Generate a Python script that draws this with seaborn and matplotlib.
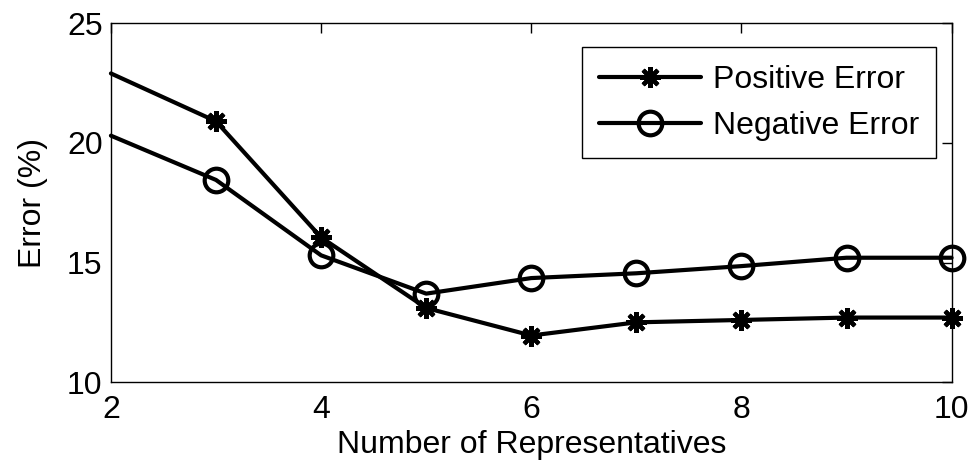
import numpy as np
import pandas as pd
import matplotlib
matplotlib.use("Agg")
import matplotlib.pyplot as plt
from matplotlib.lines import Line2D
import seaborn as sns

# values
representatives = [2, 3, 4, 5, 6, 7, 8, 9, 10]
positive_error = [22.9, 20.9, 16.05, 13.1, 11.95, 12.5, 12.6, 12.7, 12.7]
negative_error = [20.3, 18.45, 15.3, 13.7, 14.35, 14.55, 14.85, 15.2, 15.2]
series_names = ["Positive Error", "Negative Error"]

df = pd.DataFrame({
    "reps": representatives * 2,
    "error": positive_error + negative_error,
    "kind": [series_names[0]] * len(representatives) + [series_names[1]] * len(representatives),
})

sns.set_style("white")
plt.rcParams["font.family"] = ["Liberation Sans", "DejaVu Sans"]
plt.rcParams["text.color"] = "black"
plt.rcParams["axes.labelcolor"] = "black"

fig = plt.figure(figsize=(9.73, 4.73), dpi=100)
ax = fig.add_axes([0.114, 0.192, 0.864, 0.759])

star = dict(marker=(8, 2, 0), markersize=15, mew=3, mec="black")
circ = dict(marker="o", markersize=17, mew=3, mfc="none", mec="black")

# no marker at x=2 in the reference (line enters from the axis edge)
marks = list(range(1, len(representatives)))
sns.lineplot(data=df[df.kind == series_names[0]], x="reps", y="error", ax=ax,
             color="black", lw=3, markevery=marks, clip_on=False, legend=False, **star)
sns.lineplot(data=df[df.kind == series_names[1]], x="reps", y="error", ax=ax,
             color="black", lw=3, markevery=marks, clip_on=False, legend=False, **circ)

ax.set_xlim(2, 10)
ax.set_ylim(10, 25)
ax.set_xticks([2, 4, 6, 8, 10])
ax.set_yticks([10, 15, 20, 25])
ax.tick_params(direction="in", length=7, width=1, labelsize=23, top=True, right=True,
               colors="black", pad=6)
ax.tick_params(axis="x", pad=9)
for s in ax.spines.values():
    s.set_visible(True)
    s.set_color("black")
    s.set_linewidth(1)

ax.set_xlabel("Number of Representatives", fontsize=23, labelpad=4)
ax.set_ylabel("Error (%)", fontsize=23, labelpad=14)

handles = [Line2D([], [], color="black", lw=3, **star),
           Line2D([], [], color="black", lw=3, **circ)]
leg = ax.legend(handles, series_names, loc="upper right", bbox_to_anchor=(0.982, 0.933),
                fontsize=23, numpoints=1, frameon=True, fancybox=False,
                edgecolor="black", framealpha=1, handlelength=3.2,
                handletextpad=0.35, borderaxespad=0, borderpad=0.55, labelspacing=0.5)
leg.get_frame().set_linewidth(1)

fig.savefig("out.png", dpi=100)
